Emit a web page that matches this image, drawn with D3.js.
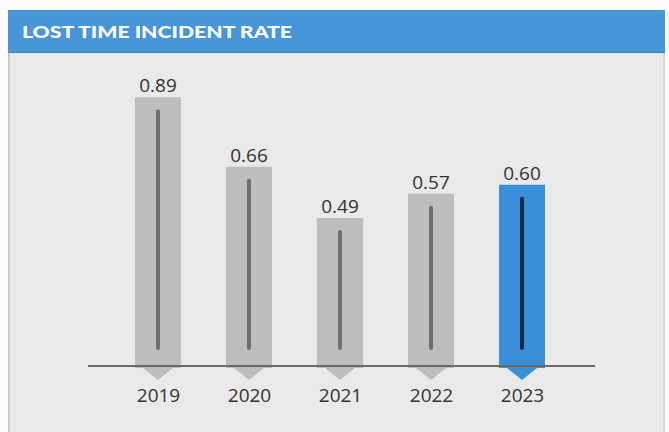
<!DOCTYPE html>
<html>
<head>
<meta charset="utf-8">
<script src="https://cdn.jsdelivr.net/npm/d3@7"></script>
<style>
  html, body { margin: 0; padding: 0; background: #ffffff; }
  svg { display: block; }
</style>
</head>
<body>
<div id="chart"></div>
<script>
// Lost time incident rate by year
const years = ["2019", "2020", "2021", "2022", "2023"];
const rates = [0.89, 0.66, 0.49, 0.57, 0.60];
const valueLabels = ["0.89", "0.66", "0.49", "0.57", "0.60"];
const highlightYear = "2023";
const title = "LOST TIME INCIDENT RATE";

const W = 669, H = 432;
const svg = d3.select("#chart").append("svg")
  .attr("width", W).attr("height", H);

// page background and panel
svg.append("rect").attr("x", 0).attr("y", 0).attr("width", W).attr("height", H).attr("fill", "#fbfbfb");
svg.append("rect").attr("x", 8).attr("y", 10).attr("width", 657).attr("height", H - 10).attr("fill", "#e9e9e9");
svg.append("rect").attr("x", 8).attr("y", 10).attr("width", 2).attr("height", H - 10).attr("fill", "#c9c9c9");
svg.append("rect").attr("x", 663).attr("y", 10).attr("width", 2).attr("height", H - 10).attr("fill", "#d6d6d6");

// title band
svg.append("rect").attr("x", 8).attr("y", 10).attr("width", 657).attr("height", 43).attr("fill", "#4895d7");
svg.append("rect").attr("x", 8).attr("y", 52).attr("width", 657).attr("height", 1).attr("fill", "#3a7fbd");
svg.append("text")
  .attr("x", 22).attr("y", 38)
  .attr("font-family", "Lato, 'Open Sans', sans-serif")
  .attr("font-weight", 900)
  .attr("font-size", 16.5)
  .attr("fill", "#ffffff")
  .attr("textLength", 270)
  .attr("lengthAdjust", "spacingAndGlyphs")
  .text(title);

// scales
const x = d3.scalePoint().domain(years).range([158, 522]);
const y = d3.scaleLinear().domain([0, 1]).range([366, 64]);
const barW = 46, arrowW = 30, arrowH = 12;

const data = years.map((yr, i) => ({ year: yr, value: rates[i], label: valueLabels[i] }));

const g = svg.append("g");

// bars with a downward pointer below the baseline
g.selectAll("path.bar").data(data).join("path")
  .attr("class", "bar")
  .attr("fill", d => d.year === highlightYear ? "#3b8fd9" : "#bdbdbd")
  .attr("d", d => {
    const cx = x(d.year), top = y(d.value), base = y(0) + 2;
    return `M${cx - barW / 2},${top} H${cx + barW / 2} V${base} H${cx + arrowW / 2} L${cx},${base + arrowH} L${cx - arrowW / 2},${base} H${cx - barW / 2} Z`;
  });

// inner stripe
g.selectAll("line.stripe").data(data).join("line")
  .attr("class", "stripe")
  .attr("x1", d => x(d.year)).attr("x2", d => x(d.year))
  .attr("y1", d => y(d.value) + 14)
  .attr("y2", y(0) - 18)
  .attr("stroke", d => d.year === highlightYear ? "#0c2b4a" : "#6f6f6f")
  .attr("stroke-width", 4)
  .attr("stroke-linecap", "round");

// baseline
svg.append("line")
  .attr("x1", 88).attr("x2", 595)
  .attr("y1", y(0)).attr("y2", y(0))
  .attr("stroke", "#6a6a6a").attr("stroke-width", 2);

// value labels
g.selectAll("text.val").data(data).join("text")
  .attr("class", "val")
  .attr("x", d => x(d.year))
  .attr("y", d => y(d.value) - 5)
  .attr("text-anchor", "middle")
  .attr("font-family", "'Open Sans', sans-serif")
  .attr("font-size", 19)
  .attr("fill", "#333333")
  .text(d => d.label);

// year axis labels
const xAxis = d3.axisBottom(x).tickSize(0).tickPadding(0);
const ax = svg.append("g").attr("transform", `translate(0,${y(0)})`).call(xAxis);
ax.select(".domain").remove();
ax.selectAll("text")
  .attr("dy", 0).attr("y", 36)
  .attr("font-family", "'Open Sans', sans-serif")
  .attr("font-size", 19)
  .attr("fill", "#333333");
</script>
</body>
</html>
